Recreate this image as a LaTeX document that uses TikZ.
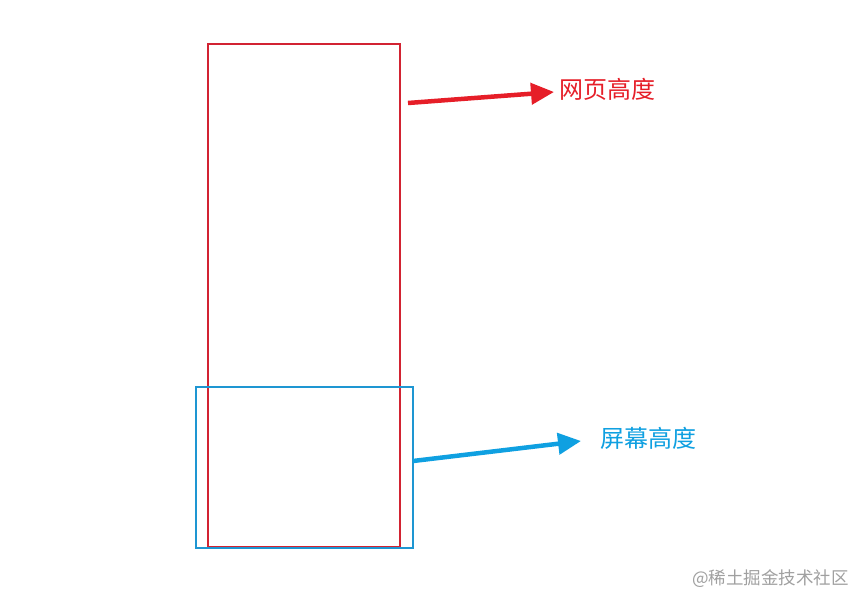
\documentclass[tikz,border=0pt]{standalone}
\usepackage{fontspec}
\newfontfamily\cjk{Noto Sans CJK SC}
\usetikzlibrary{arrows.meta}
\definecolor{rboxc}{RGB}{210,35,50}
\definecolor{rarrc}{RGB}{230,30,40}
\definecolor{bboxc}{RGB}{30,150,210}
\definecolor{barrc}{RGB}{15,160,225}
\definecolor{wmc}{RGB}{160,160,160}
\begin{document}
\begin{tikzpicture}[x=1pt,y=-1pt,
  boxst/.style={draw,line width=1.5pt,inner sep=0pt},
  arr/.style={line width=4.5pt,-{Triangle[length=23pt,width=21pt]}},
  lbl/.style={font=\cjk\fontsize{24}{28}\selectfont,inner sep=0pt,anchor=west}]
\useasboundingbox (0,0) rectangle (857,597);
\fill[white] (0,0) rectangle (857,597);
\node[boxst,draw=rboxc,minimum width=192pt,minimum height=503pt] (page) at (304,295.5) {};
\node[boxst,draw=bboxc,minimum width=217pt,minimum height=161pt] (screen) at (304.5,467.5) {};
\node[lbl,text=rarrc] (pl) at (559,89) {网页高度};
\node[lbl,text=barrc] (sl) at (600,438) {屏幕高度};
\coordinate (pa) at (408,103);
\coordinate (pt) at (554,92);
\coordinate (sa) at (413,461);
\coordinate (st) at (581,441);
\draw[arr,rarrc] (pa) -- (pt);
\draw[arr,barrc] (sa) -- (st);
\node[font=\cjk\fontsize{17.5}{20}\selectfont,text=wmc,anchor=east,inner sep=0pt] (wm) at (849,579) {@稀土掘金技术社区};
\end{tikzpicture}
\end{document}
